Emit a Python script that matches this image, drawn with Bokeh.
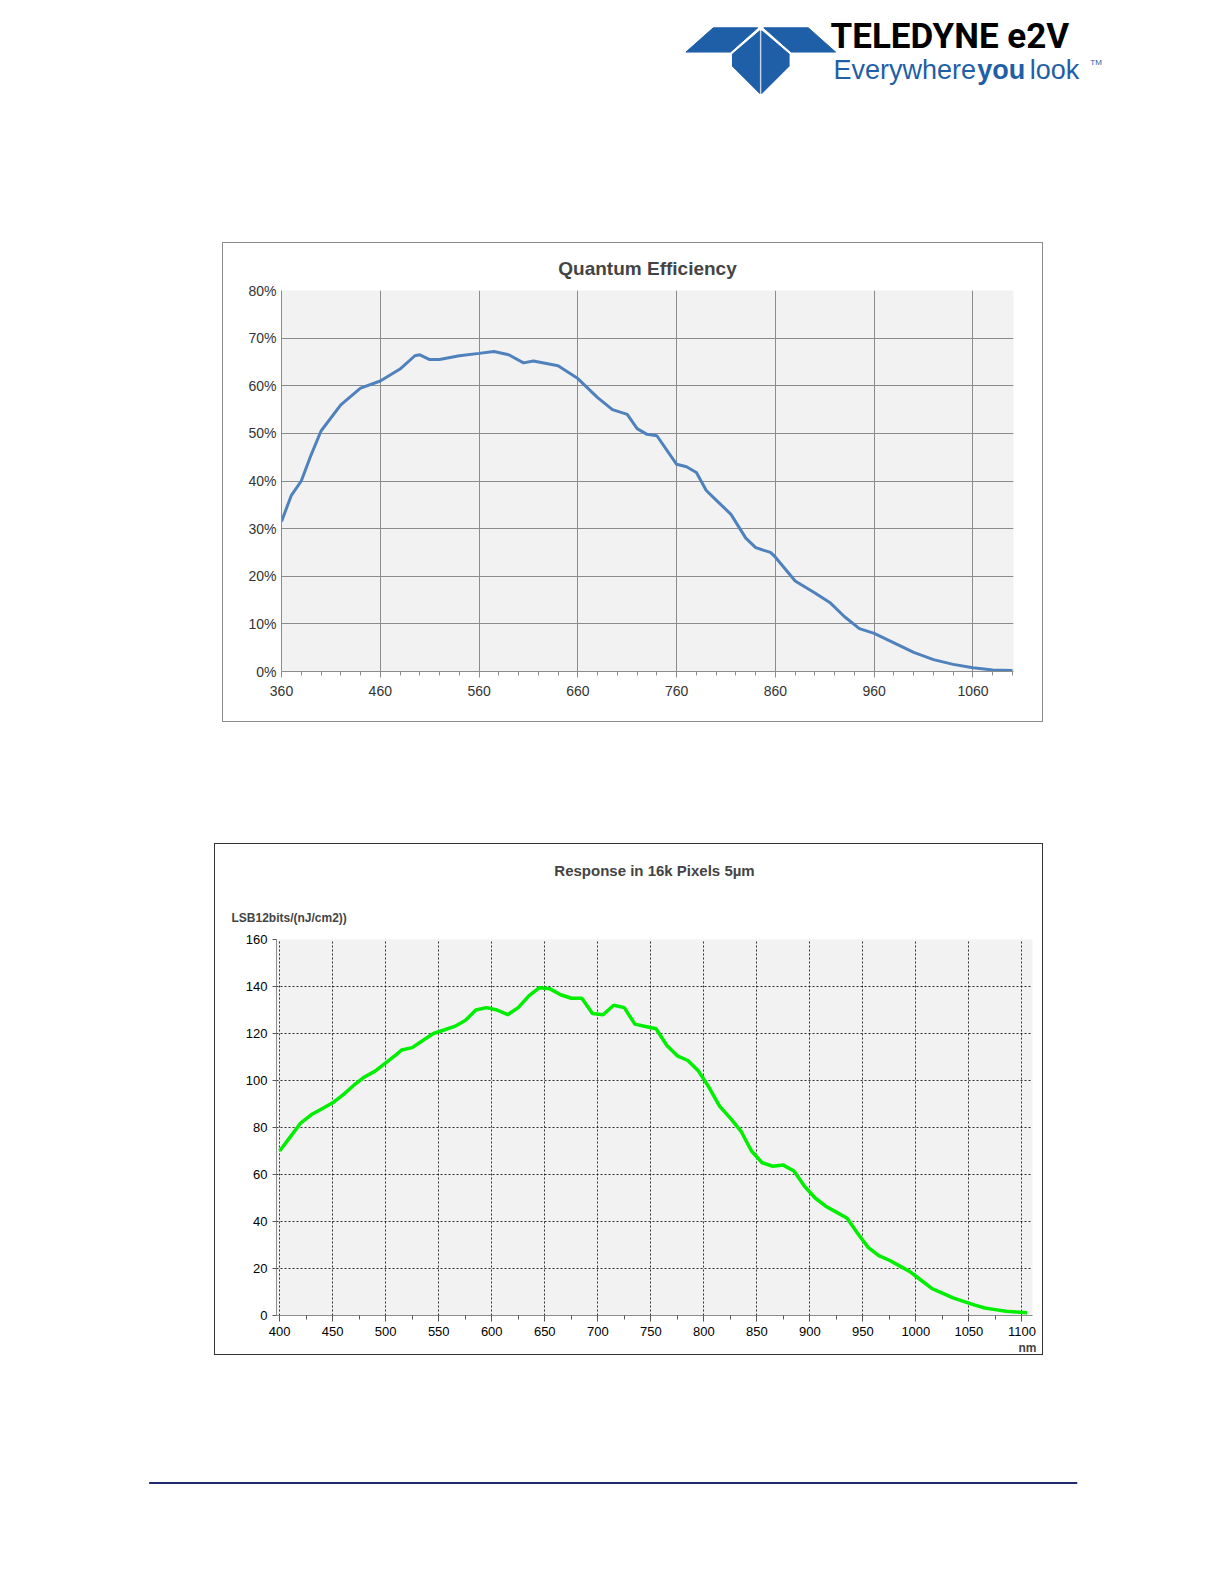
from bokeh.plotting import figure
from bokeh.layouts import column, row
from bokeh.models import Range1d, FixedTicker, PrintfTickFormatter, Title, Spacer
from bokeh.core.properties import value
from bokeh.embed import file_html
from bokeh.resources import INLINE

# Quantum efficiency (%) vs wavelength (nm)
qe_nm = [360, 370, 380, 390, 400, 420, 440, 460, 480, 495, 500, 510, 520, 540, 560, 575,
         590, 605, 615, 640, 660, 680, 695, 710, 720, 730, 740, 760, 770, 780, 790, 800,
         815, 830, 840, 855, 860, 880, 900, 915, 930, 945, 960, 980, 1000, 1020, 1040,
         1060, 1080, 1100]
qe_pct = [31.5, 37, 40, 45.5, 50.5, 56, 59.5, 61, 63.5, 66.3, 66.5, 65.5, 65.5, 66.3, 66.8,
          67.2, 66.5, 64.8, 65.2, 64.2, 61.5, 57.5, 55, 54, 51, 49.8, 49.5, 43.5, 43, 41.8,
          38, 36, 33, 28, 26, 25, 24, 19, 16.5, 14.5, 11.5, 9, 8, 6, 4, 2.5, 1.5, 0.8, 0.3, 0.2]

# Response LSB12bits/(nJ/cm2) vs wavelength (nm)
resp_nm = [400, 410, 420, 430, 440, 450, 460, 470, 480, 490, 500, 510, 515, 525, 535, 545,
           555, 565, 575, 585, 595, 605, 615, 625, 635, 645, 655, 665, 675, 685, 695, 705,
           715, 725, 735, 745, 755, 765, 775, 785, 795, 805, 815, 825, 835, 845, 855, 865,
           875, 885, 895, 905, 915, 925, 935, 945, 955, 965, 975, 985, 995, 1005, 1015,
           1025, 1035, 1045, 1055, 1065, 1075, 1085, 1095, 1105]
resp_val = [70, 76, 82, 85.5, 88, 90.5, 94, 98, 101.5, 104, 107.5, 111, 113, 114, 117, 120,
            121.5, 123, 125.5, 130, 131, 130, 128, 131, 136, 139.5, 139, 136.5, 135, 135,
            128.5, 128, 132, 131, 124, 123, 122, 115, 110.5, 108.5, 104, 97, 89, 84, 78.5,
            70, 65, 63.5, 64, 61.5, 55, 50, 46.5, 44, 41.5, 35, 29, 25.5, 23.5, 21, 18.5,
            15, 11.5, 9.5, 7.5, 6, 4.5, 3.2, 2.5, 1.8, 1.5, 1.2]

qe_major = [360, 460, 560, 660, 760, 860, 960, 1060]
qe_minor = [380, 400, 420, 440, 480, 500, 520, 540, 580, 600, 620, 640, 680, 700, 720, 740,
            780, 800, 820, 840, 880, 900, 920, 940, 980, 1000, 1020, 1040, 1080, 1100]
resp_major = [400, 450, 500, 550, 600, 650, 700, 750, 800, 850, 900, 950, 1000, 1050, 1100]
resp_minor = [425, 475, 525, 575, 625, 675, 725, 775, 825, 875, 925, 975, 1025, 1075]

FONT = "Liberation Sans"
BLUE = "#1f5fa8"
W = 1195
K = 1.011  # layout px per reference px


def blank(h, y0):
    f = figure(width=W, height=h, x_range=Range1d(0, W / K),
               y_range=Range1d(y0 + h / K, y0),
               output_backend="svg", toolbar_location=None, min_border=0)
    f.axis.visible = False
    f.grid.visible = False
    f.outline_line_color = None
    return f


# header with logo
head = blank(242, 0)
cx = 752
left = [([678, 705, 749, 722], [51, 27, 27, 51]), ([724, 751, 751, 724], [53, 30, 92, 65])]
for xs, ys in left:
    head.patch(xs, ys, color=BLUE)
    head.patch([2 * cx - x for x in xs], ys, color=BLUE)
head.text([821], [56], text=["TELEDYNE e2V"], text_font=value("Roboto"),
          text_font_style="bold", text_font_size="35px", text_color="black")
head.text([824], [84], text=["Everywhere"], text_font=value(FONT), text_font_size="27px",
          text_color=BLUE)
head.text([966], [84], text=["you"], text_font=value(FONT), text_font_style="bold",
          text_font_size="27px", text_color=BLUE)
head.text([1018], [84], text=["look"], text_font=value(FONT), text_font_size="27px",
          text_color=BLUE)
head.text([1078], [66], text=["TM"], text_font=value(FONT), text_font_size="8px",
          text_color=BLUE)

# chart 1: quantum efficiency
p1 = figure(width=819, height=478, x_range=Range1d(360, 1101), y_range=Range1d(0, 80),
            output_backend="svg", toolbar_location=None,
            min_border_left=58, min_border_right=29, min_border_top=10, min_border_bottom=50)
p1.add_layout(Title(text="Quantum Efficiency", text_font=FONT, text_font_style="bold",
                    text_font_size="19px", align="center", offset=-25, standoff=24,
                    text_line_height=2.3), "above")
p1.background_fill_color = "#f2f2f2"
p1.outline_line_color = None
p1.xaxis.ticker = FixedTicker(ticks=qe_major, minor_ticks=qe_minor)
p1.yaxis.ticker = FixedTicker(ticks=list(range(0, 81, 10)))
p1.yaxis.formatter = PrintfTickFormatter(format="%d%%")
p1.grid.grid_line_color = "#8c8c8c"
for ax in (p1.xaxis, p1.yaxis):
    ax.axis_line_color = "#8c8c8c"
    ax.major_tick_line_color = "#8c8c8c"
    ax.minor_tick_line_color = "#8c8c8c"
    ax.major_label_text_font = FONT
    ax.major_label_text_font_size = "14px"
    ax.major_label_text_color = "#333333"
p1.xaxis.major_tick_out = 6
p1.xaxis.minor_tick_out = 4
p1.xaxis.major_tick_in = 0
p1.xaxis.minor_tick_in = 0
p1.xaxis.major_label_standoff = 8
p1.yaxis.major_tick_out = 0
p1.yaxis.major_tick_in = 0
p1.yaxis.minor_tick_line_color = None
p1.line(qe_nm, qe_pct, line_color="#4f81bd", line_width=3)

# chart 2: response
p2 = figure(width=827, height=510, x_range=Range1d(397, 1110), y_range=Range1d(0, 160),
            output_backend="svg", toolbar_location=None,
            min_border_left=61, min_border_right=10, min_border_top=10, min_border_bottom=31)
p2.add_layout(Title(text="nm", text_font=FONT, text_font_style="bold",
                    text_font_size="12px", align="right", offset=-4, standoff=0), "below")
p2.add_layout(Title(text="LSB12bits/(nJ/cm2))", text_font=FONT, text_font_style="bold",
                    text_font_size="12px", align="left", offset=-45, standoff=30), "above")
p2.add_layout(Title(text="Response in 16k Pixels 5\u00b5m", text_font=FONT,
                    text_font_style="bold", text_font_size="15px", align="center",
                    offset=-25, standoff=30), "above")
p2.background_fill_color = "#f2f2f2"
p2.outline_line_color = None
p2.xaxis.ticker = FixedTicker(ticks=resp_major, minor_ticks=resp_minor)
p2.yaxis.ticker = FixedTicker(ticks=list(range(0, 161, 20)))
p2.grid.grid_line_color = "black"
p2.grid.grid_line_dash = "2 2"
p2.grid.grid_line_alpha = 0.8
for ax in (p2.xaxis, p2.yaxis):
    ax.axis_line_color = "#8c8c8c"
    ax.major_tick_line_color = "#555555"
    ax.minor_tick_line_color = "#555555"
    ax.major_tick_in = 0
    ax.minor_tick_in = 0
    ax.major_label_text_font = FONT
    ax.major_label_text_font_size = "13px"
    ax.major_label_text_color = "black"
p2.xaxis.major_tick_out = 6
p2.xaxis.minor_tick_out = 4
p2.yaxis.major_tick_out = 4
p2.yaxis.minor_tick_line_color = None
p2.line(resp_nm, resp_val, line_color="#00ee00", line_width=3.5)

# footer rule
foot = blank(170, 1342)
foot.line([147, 1065], [1468, 1468], line_color="#1f2a6e", line_width=2)

box1 = column(p1, styles={"border": "1px solid #8c8c8c"})
box2 = column(p2, styles={"border": "1px solid #333333"})
page = column(head,
              row(Spacer(width=222, height=480), box1),
              Spacer(width=W, height=121),
              row(Spacer(width=214, height=512), box2),
              foot)

open("out.html", "w").write(file_html(page, INLINE))
